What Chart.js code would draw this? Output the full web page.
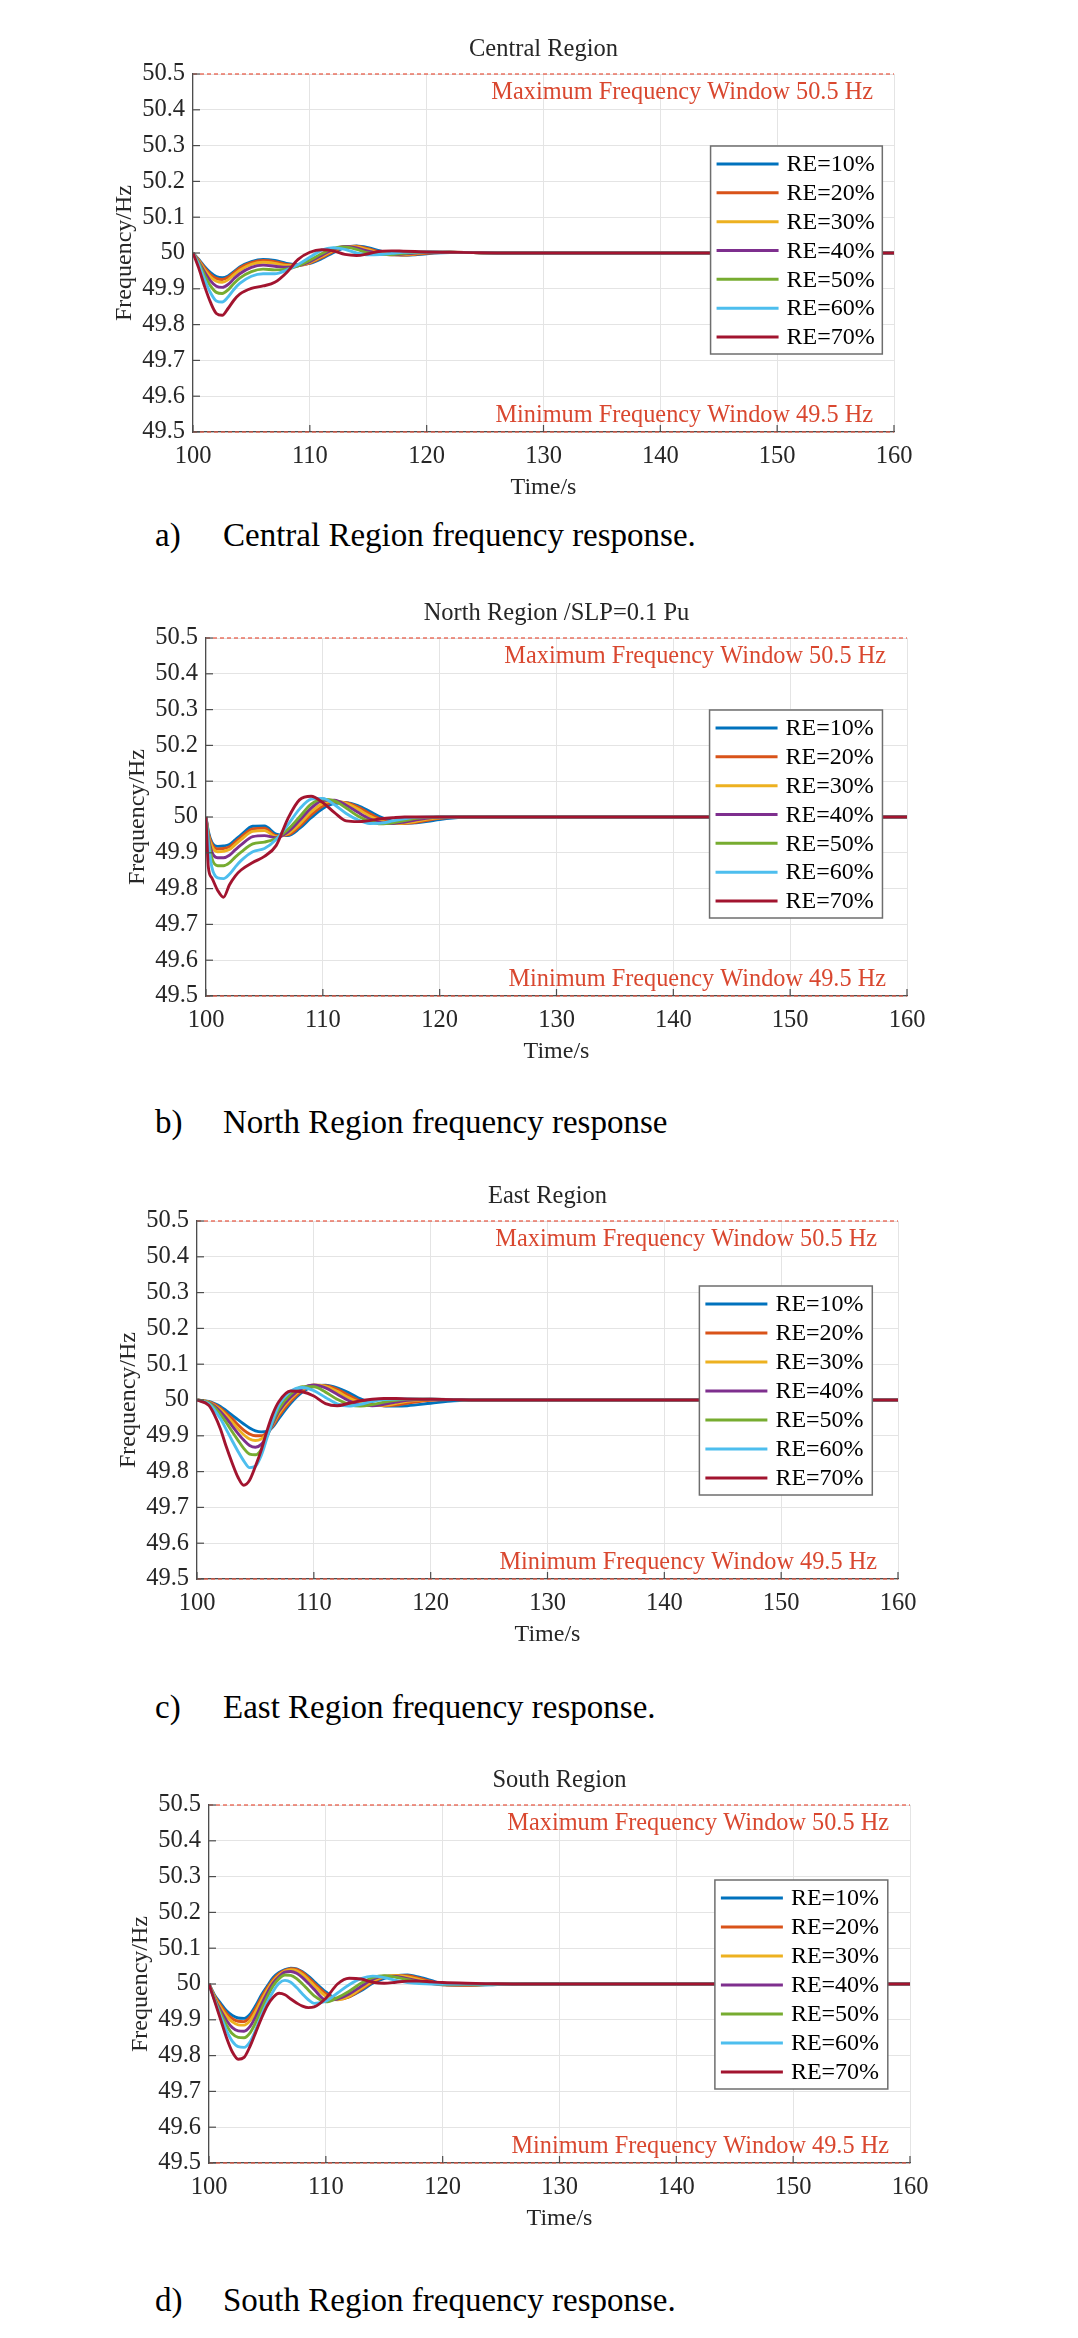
<!DOCTYPE html>
<html>
<head>
<meta charset="utf-8">
<script src="https://cdn.jsdelivr.net/npm/chart.js@4.4.1/dist/chart.umd.min.js"></script>
<style>
  html, body { margin: 0; padding: 0; background: #fff; }
  body { position: relative; width: 1078px; height: 2338px; overflow: hidden; font-family: "Liberation Serif", "Times New Roman", serif; }
  .cap { position: absolute; font-size: 33px; line-height: 40px; color: #000; white-space: nowrap; }
</style>
</head>
<body>
<script>
// ---- shared labels / ticks ----
const seriesLabels = ['RE=10%', 'RE=20%', 'RE=30%', 'RE=40%', 'RE=50%', 'RE=60%', 'RE=70%'];
const xTicks = [100, 110, 120, 130, 140, 150, 160];
const yTicks = [49.5, 49.6, 49.7, 49.8, 49.9, 50, 50.1, 50.2, 50.3, 50.4, 50.5];
const limitHigh = 50.5;
const limitLow = 49.5;
const limitLabels = ['Maximum Frequency Window 50.5 Hz', 'Minimum Frequency Window 49.5 Hz'];
const panelTitles = ['Central Region', 'North Region /SLP=0.1 Pu', 'East Region', 'South Region'];
const captionLetters = ['a)', 'b)', 'c)', 'd)'];
const captionTexts = ['Central Region frequency response.', 'North Region frequency response', 'East Region frequency response.', 'South Region frequency response.'];

// ---- Central region ----
const timeCentral = [100, 100.5, 101, 101.5, 102, 102.5, 103, 103.5, 104, 105, 106, 107, 108, 109, 110, 111, 112, 113, 114, 115, 116, 117, 118, 119, 120, 122, 124, 127, 130, 160];
const cen10 = [50.000, 49.982, 49.962, 49.945, 49.934, 49.931, 49.936, 49.948, 49.961, 49.976, 49.982, 49.979, 49.971, 49.967, 49.971, 49.984, 50.001, 50.015, 50.020, 50.015, 50.006, 49.998, 49.994, 49.995, 49.998, 50.001, 50.001, 50.000, 50.000, 50.000];
const cen20 = [50.000, 49.980, 49.958, 49.940, 49.929, 49.926, 49.932, 49.945, 49.958, 49.973, 49.979, 49.976, 49.968, 49.966, 49.972, 49.987, 50.004, 50.017, 50.019, 50.012, 50.003, 49.996, 49.994, 49.996, 49.999, 50.002, 50.001, 50.000, 50.000, 50.000];
const cen30 = [50.000, 49.978, 49.953, 49.933, 49.921, 49.918, 49.925, 49.939, 49.952, 49.968, 49.974, 49.971, 49.965, 49.965, 49.974, 49.990, 50.007, 50.018, 50.017, 50.009, 50.000, 49.995, 49.995, 49.998, 50.001, 50.002, 50.001, 50.000, 50.000, 50.000];
const cen40 = [50.000, 49.975, 49.946, 49.922, 49.907, 49.904, 49.912, 49.928, 49.942, 49.960, 49.966, 49.963, 49.960, 49.964, 49.976, 49.993, 50.010, 50.018, 50.014, 50.005, 49.998, 49.995, 49.997, 50.000, 50.002, 50.002, 50.001, 50.000, 50.000, 50.000];
const cen50 = [50.000, 49.972, 49.937, 49.908, 49.890, 49.887, 49.897, 49.915, 49.930, 49.948, 49.955, 49.953, 49.955, 49.964, 49.980, 49.998, 50.013, 50.017, 50.010, 50.000, 49.996, 49.996, 49.999, 50.002, 50.003, 50.002, 50.001, 50.000, 50.000, 50.000];
const cen60 = [50.000, 49.967, 49.925, 49.889, 49.866, 49.863, 49.877, 49.898, 49.915, 49.935, 49.942, 49.942, 49.952, 49.968, 49.988, 50.008, 50.015, 50.010, 50.000, 49.995, 49.996, 49.999, 50.002, 50.003, 50.003, 50.002, 50.001, 50.000, 50.000, 50.000];
const cen70 = [50.000, 49.957, 49.906, 49.862, 49.831, 49.826, 49.845, 49.868, 49.885, 49.901, 49.908, 49.918, 49.945, 49.982, 50.002, 50.009, 50.006, 49.996, 49.993, 49.998, 50.005, 50.006, 50.005, 50.004, 50.003, 50.002, 50.001, 50.000, 50.000, 50.000];

// ---- North region ----
const timeNorth = [100, 100.2, 100.5, 101, 101.5, 102, 102.5, 103, 104, 105, 106, 107, 108, 109, 110, 111, 112, 113, 114, 115, 116, 117, 118, 119, 120, 122, 124, 127, 130, 160];
const nor10 = [50.000, 49.960, 49.930, 49.918, 49.919, 49.923, 49.936, 49.950, 49.974, 49.975, 49.952, 49.948, 49.968, 49.998, 50.024, 50.038, 50.040, 50.032, 50.016, 49.999, 49.988, 49.983, 49.984, 49.988, 49.993, 49.999, 50.000, 50.000, 50.000, 50.000];
const nor20 = [50.000, 49.955, 49.925, 49.911, 49.912, 49.917, 49.930, 49.944, 49.967, 49.969, 49.948, 49.950, 49.974, 50.006, 50.031, 50.042, 50.040, 50.028, 50.010, 49.993, 49.984, 49.982, 49.985, 49.991, 49.996, 50.000, 50.000, 50.000, 50.000, 50.000];
const nor30 = [50.000, 49.950, 49.918, 49.903, 49.904, 49.909, 49.923, 49.937, 49.960, 49.962, 49.945, 49.953, 49.980, 50.014, 50.038, 50.045, 50.038, 50.022, 50.003, 49.988, 49.982, 49.983, 49.988, 49.994, 49.998, 50.000, 50.000, 50.000, 50.000, 50.000];
const nor40 = [50.000, 49.945, 49.903, 49.886, 49.886, 49.893, 49.908, 49.922, 49.945, 49.948, 49.942, 49.958, 49.990, 50.025, 50.046, 50.047, 50.033, 50.013, 49.995, 49.984, 49.982, 49.986, 49.992, 49.997, 50.000, 50.000, 50.000, 50.000, 50.000, 50.000];
const nor50 = [50.000, 49.940, 49.885, 49.864, 49.864, 49.872, 49.888, 49.902, 49.925, 49.930, 49.940, 49.965, 50.000, 50.036, 50.050, 50.045, 50.025, 50.003, 49.988, 49.981, 49.984, 49.990, 49.996, 49.999, 50.000, 50.000, 50.000, 50.000, 50.000, 50.000];
const nor60 = [50.000, 49.930, 49.860, 49.830, 49.828, 49.840, 49.860, 49.878, 49.903, 49.912, 49.937, 49.978, 50.022, 50.050, 50.052, 50.034, 50.010, 49.992, 49.982, 49.983, 49.989, 49.995, 49.999, 50.000, 50.000, 50.000, 50.000, 50.000, 50.000, 50.000];
const nor70 = [50.000, 49.860, 49.830, 49.795, 49.776, 49.810, 49.835, 49.852, 49.873, 49.890, 49.920, 49.995, 50.048, 50.058, 50.040, 50.012, 49.989, 49.987, 49.990, 49.995, 49.998, 50.000, 50.000, 50.000, 50.000, 50.000, 50.000, 50.000, 50.000, 50.000];

// ---- East region ----
const timeEast = [100, 101, 101.5, 102, 102.5, 103, 103.5, 104, 104.5, 105, 105.5, 106, 106.5, 107, 108, 109, 110, 111, 112, 113, 114, 115, 116, 117, 118, 120, 122, 124, 127, 130, 160];
const eas10 = [50.000, 49.996, 49.990, 49.982, 49.970, 49.958, 49.945, 49.933, 49.922, 49.914, 49.911, 49.912, 49.925, 49.948, 49.990, 50.022, 50.038, 50.041, 50.034, 50.020, 50.003, 49.990, 49.984, 49.983, 49.984, 49.991, 49.998, 50.000, 50.000, 50.000, 50.000];
const eas20 = [50.000, 49.995, 49.988, 49.977, 49.963, 49.948, 49.931, 49.916, 49.905, 49.900, 49.900, 49.909, 49.928, 49.955, 49.996, 50.026, 50.040, 50.040, 50.030, 50.013, 49.997, 49.987, 49.984, 49.986, 49.991, 49.999, 50.001, 50.000, 50.000, 50.000, 50.000];
const eas30 = [50.000, 49.994, 49.985, 49.973, 49.957, 49.939, 49.920, 49.903, 49.891, 49.887, 49.891, 49.906, 49.932, 49.962, 50.003, 50.030, 50.042, 50.038, 50.024, 50.006, 49.992, 49.985, 49.985, 49.990, 49.996, 50.001, 50.001, 50.000, 50.000, 50.000, 50.000];
const eas40 = [50.000, 49.993, 49.983, 49.968, 49.949, 49.928, 49.907, 49.888, 49.873, 49.868, 49.876, 49.900, 49.935, 49.968, 50.008, 50.033, 50.042, 50.034, 50.016, 49.998, 49.987, 49.984, 49.988, 49.994, 49.999, 50.002, 50.001, 50.000, 50.000, 50.000, 50.000];
const eas50 = [50.000, 49.992, 49.979, 49.960, 49.937, 49.912, 49.888, 49.865, 49.849, 49.847, 49.862, 49.900, 49.940, 49.975, 50.016, 50.037, 50.037, 50.022, 50.002, 49.988, 49.983, 49.987, 49.994, 49.999, 50.002, 50.002, 50.001, 50.000, 50.000, 50.000, 50.000];
const eas60 = [50.000, 49.990, 49.972, 49.948, 49.918, 49.887, 49.857, 49.830, 49.811, 49.815, 49.845, 49.895, 49.945, 49.985, 50.024, 50.035, 50.026, 50.007, 49.989, 49.983, 49.988, 49.996, 50.001, 50.003, 50.003, 50.002, 50.001, 50.000, 50.000, 50.000, 50.000];
const eas70 = [50.000, 49.985, 49.958, 49.920, 49.870, 49.825, 49.785, 49.762, 49.776, 49.815, 49.860, 49.915, 49.962, 49.995, 50.025, 50.023, 50.011, 49.990, 49.984, 49.991, 49.998, 50.002, 50.004, 50.004, 50.003, 50.002, 50.001, 50.000, 50.000, 50.000, 50.000];

// ---- South region ----
const timeSouth = [100, 100.5, 101, 101.5, 102, 102.5, 103, 103.5, 104, 104.5, 105, 105.5, 106, 106.5, 107, 107.5, 108, 108.5, 109, 110, 111, 112, 113, 114, 115, 116, 117, 118, 119, 120, 122, 124, 127, 130, 160];
const sou10 = [50.000, 49.968, 49.946, 49.925, 49.912, 49.905, 49.904, 49.915, 49.940, 49.970, 49.995, 50.018, 50.032, 50.040, 50.044, 50.042, 50.034, 50.022, 50.007, 49.978, 49.959, 49.965, 49.981, 50.002, 50.016, 50.023, 50.025, 50.019, 50.010, 50.000, 49.996, 49.998, 50.000, 50.000, 50.000];
const sou20 = [50.000, 49.965, 49.940, 49.918, 49.903, 49.896, 49.895, 49.907, 49.932, 49.963, 49.990, 50.013, 50.029, 50.038, 50.043, 50.041, 50.032, 50.018, 50.002, 49.973, 49.957, 49.964, 49.984, 50.005, 50.019, 50.024, 50.023, 50.016, 50.007, 49.999, 49.996, 49.999, 50.000, 50.000, 50.000];
const sou30 = [50.000, 49.962, 49.934, 49.910, 49.894, 49.886, 49.885, 49.897, 49.923, 49.955, 49.984, 50.008, 50.025, 50.036, 50.040, 50.037, 50.027, 50.012, 49.996, 49.966, 49.956, 49.966, 49.987, 50.008, 50.021, 50.023, 50.020, 50.012, 50.004, 49.998, 49.997, 49.999, 50.000, 50.000, 50.000];
const sou40 = [50.000, 49.958, 49.926, 49.898, 49.878, 49.869, 49.868, 49.881, 49.909, 49.944, 49.976, 50.003, 50.021, 50.033, 50.035, 50.030, 50.018, 50.002, 49.985, 49.955, 49.958, 49.972, 49.993, 50.013, 50.022, 50.021, 50.015, 50.008, 50.002, 49.998, 49.998, 49.999, 50.000, 50.000, 50.000];
const sou50 = [50.000, 49.956, 49.918, 49.885, 49.861, 49.851, 49.850, 49.863, 49.893, 49.930, 49.965, 49.995, 50.015, 50.025, 50.024, 50.015, 50.000, 49.983, 49.967, 49.950, 49.962, 49.980, 50.002, 50.018, 50.023, 50.019, 50.012, 50.005, 50.001, 49.999, 49.999, 50.000, 50.000, 50.000, 50.000];
const sou60 = [50.000, 49.953, 49.910, 49.870, 49.840, 49.825, 49.823, 49.838, 49.872, 49.913, 49.950, 49.980, 50.002, 50.010, 50.005, 49.990, 49.972, 49.956, 49.946, 49.952, 49.975, 49.998, 50.015, 50.022, 50.018, 50.010, 50.004, 50.001, 50.000, 50.000, 50.000, 50.000, 50.000, 50.000, 50.000];
const sou70 = [50.000, 49.950, 49.900, 49.850, 49.810, 49.790, 49.795, 49.825, 49.865, 49.905, 49.940, 49.963, 49.974, 49.970, 49.958, 49.947, 49.938, 49.934, 49.936, 49.960, 50.000, 50.016, 50.014, 50.005, 50.002, 50.005, 50.008, 50.008, 50.006, 50.004, 50.002, 50.001, 50.000, 50.000, 50.000];

// ---- styling ----
const lineColors = ['#0072BD', '#D95319', '#EDB120', '#7E2F8E', '#77AC30', '#4DBEEE', '#A2142F'];
const serif = '"Liberation Serif", "Times New Roman", serif';
const gridColor = '#e4e4e4';
const axisColor = '#4d4d4d';
const textColor = '#262626';
const limitColor = 'rgba(232, 90, 70, 0.85)';
const labelRed = '#d9472f';

// where each plot box sits on the page, and its legend box (x in seconds, y offset from plot top)
const panels = [
  { time: timeCentral, series: [cen10, cen20, cen30, cen40, cen50, cen60, cen70], left: 193, top: 74,   legend: [144.3, 159.0, 72, 280], capY: 515 },
  { time: timeNorth,   series: [nor10, nor20, nor30, nor40, nor50, nor60, nor70], left: 206, top: 638,  legend: [143.1, 157.9, 72, 280], capY: 1102 },
  { time: timeEast,    series: [eas10, eas20, eas30, eas40, eas50, eas60, eas70], left: 197, top: 1221, legend: [143.0, 157.8, 65, 274], capY: 1687 },
  { time: timeSouth,   series: [sou10, sou20, sou30, sou40, sou50, sou60, sou70], left: 209, top: 1805, legend: [143.3, 158.1, 75, 284], capY: 2280 }
];
const plotW = 701, plotH = 358, padTop = 70, xAxisH = 80, yAxisW = 80;

function seg(ctx, x0, y0, x1, y1) {
  ctx.beginPath(); ctx.moveTo(x0, y0); ctx.lineTo(x1, y1); ctx.stroke();
}

panels.forEach((p, idx) => {
  const H = padTop + plotH + xAxisH;
  const canvas = document.createElement('canvas');
  canvas.width = 1078; canvas.height = H;
  canvas.style.cssText = `position:absolute;left:0;top:${p.top - padTop}px;width:1078px;height:${H}px;`;
  document.body.appendChild(canvas);

  const datasets = p.series.map((vals, k) => ({
    label: seriesLabels[k],
    data: p.time.map((t, i) => ({ x: t, y: vals[i] })),
    borderColor: lineColors[k],
    borderWidth: 2.9,
    pointRadius: 0,
    cubicInterpolationMode: 'monotone',
    order: 10 - k // RE=70% ends up on top
  }));
  [limitHigh, limitLow].forEach(v => {
    datasets.push({
      label: 'limit',
      data: [{ x: xTicks[0], y: v }, { x: xTicks[xTicks.length - 1], y: v }],
      borderColor: limitColor,
      borderWidth: 1.5,
      borderDash: [4, 3],
      pointRadius: 0,
      clip: 4,
      order: 0
    });
  });

  const decorations = {
    id: 'decorations' + idx,
    afterDraw(chart) {
      const { ctx, chartArea: a, scales: { x, y } } = chart;
      ctx.save();

      // inward tick marks
      ctx.strokeStyle = axisColor; ctx.lineWidth = 1.2;
      xTicks.forEach(v => { const px = x.getPixelForValue(v); seg(ctx, px, a.bottom, px, a.bottom - 7); });
      yTicks.forEach(v => { const py = y.getPixelForValue(v); seg(ctx, a.left, py, a.left + 7, py); });

      // title + axis titles
      ctx.fillStyle = textColor;
      ctx.textAlign = 'center'; ctx.textBaseline = 'middle';
      ctx.font = `24.5px ${serif}`;
      ctx.fillText(panelTitles[idx], (a.left + a.right) / 2, a.top - 24);
      ctx.font = `24px ${serif}`;
      ctx.fillText('Time/s', x.getPixelForValue(130), a.bottom + 56);
      ctx.save();
      ctx.translate(a.left - 68, (a.top + a.bottom) / 2);
      ctx.rotate(-Math.PI / 2);
      ctx.fillText('Frequency/Hz', 0, 0);
      ctx.restore();

      // frequency window labels
      ctx.fillStyle = labelRed; ctx.textAlign = 'right';
      ctx.font = `24.3px ${serif}`;
      ctx.fillText(limitLabels[0], a.right - 21, a.top + 19);
      ctx.fillText(limitLabels[1], a.right - 21, a.bottom - 16);

      // legend box
      const [lx0, lx1, ly0, ly1] = p.legend;
      const bx0 = x.getPixelForValue(lx0), bx1 = x.getPixelForValue(lx1);
      const by0 = a.top + ly0, by1 = a.top + ly1;
      ctx.fillStyle = '#fff';
      ctx.fillRect(bx0, by0, bx1 - bx0, by1 - by0);
      ctx.strokeStyle = '#6e6e6e'; ctx.lineWidth = 1.5;
      ctx.strokeRect(bx0, by0, bx1 - bx0, by1 - by0);
      const step = (by1 - by0 - 35) / (seriesLabels.length - 1);
      ctx.textAlign = 'left';
      ctx.font = `24px ${serif}`;
      seriesLabels.forEach((lab, k) => {
        const cy = by0 + 18 + k * step;
        ctx.strokeStyle = lineColors[k]; ctx.lineWidth = 3;
        seg(ctx, bx0 + 6, cy, bx0 + 68, cy);
        ctx.fillStyle = '#000';
        ctx.fillText(lab, bx0 + 76, cy + 1);
      });
      ctx.restore();
    }
  };

  new Chart(canvas.getContext('2d'), {
    type: 'line',
    data: { datasets },
    options: {
      responsive: false,
      animation: false,
      devicePixelRatio: 1,
      layout: { padding: { left: p.left - yAxisW, right: 1078 - (p.left + plotW), top: padTop, bottom: 0 } },
      plugins: { legend: { display: false }, title: { display: false }, tooltip: { enabled: false } },
      scales: {
        x: {
          type: 'linear', min: xTicks[0], max: xTicks[xTicks.length - 1],
          afterBuildTicks: s => { s.ticks = xTicks.map(v => ({ value: v })); },
          afterFit: s => { s.height = xAxisH; },
          grid: { color: gridColor, drawTicks: false },
          border: { color: axisColor, width: 1.2 },
          ticks: { font: { family: serif, size: 24.5 }, color: textColor, padding: 10, maxRotation: 0, callback: v => String(v) }
        },
        y: {
          type: 'linear', min: limitLow, max: limitHigh,
          afterBuildTicks: s => { s.ticks = yTicks.map(v => ({ value: v })); },
          afterFit: s => { s.width = yAxisW; },
          grid: { color: gridColor, drawTicks: false },
          border: { color: axisColor, width: 1.2 },
          ticks: { font: { family: serif, size: 24.5 }, color: textColor, padding: 8, callback: v => String(Number(v.toFixed(1))) }
        }
      }
    },
    plugins: [decorations]
  });

  // caption under the panel
  const letter = document.createElement('div');
  letter.className = 'cap';
  letter.style.left = '155px'; letter.style.top = p.capY + 'px';
  letter.textContent = captionLetters[idx];
  document.body.appendChild(letter);
  const cap = document.createElement('div');
  cap.className = 'cap';
  cap.style.left = '223px'; cap.style.top = p.capY + 'px';
  cap.textContent = captionTexts[idx];
  document.body.appendChild(cap);
});
</script>
</body>
</html>
